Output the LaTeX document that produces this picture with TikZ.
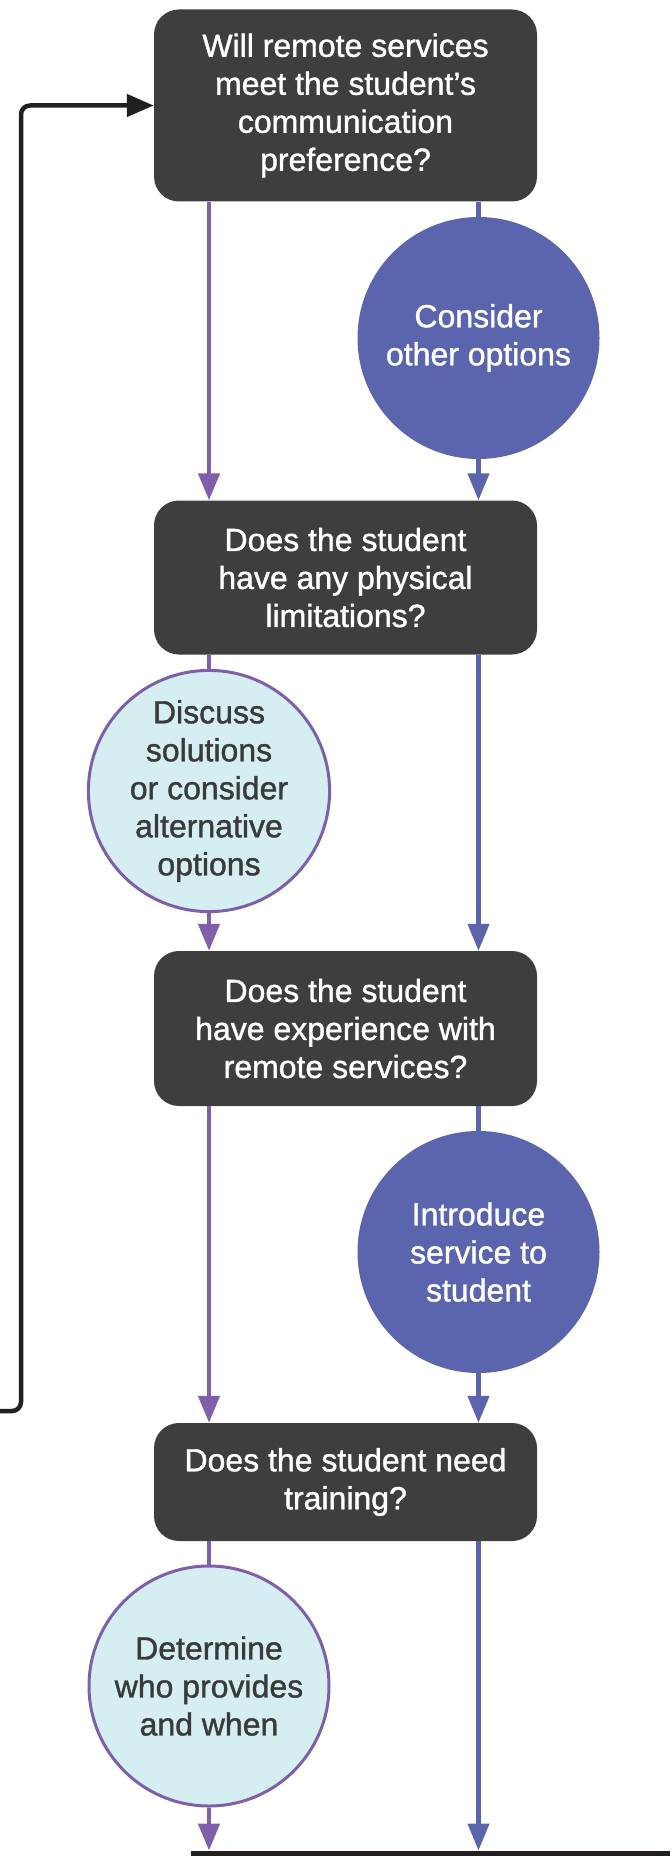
\documentclass[tikz,border=0pt]{standalone}
\usepackage{fontspec}
\setmainfont{Liberation Sans}
\font\qfont="Liberation Sans:embolden=1.2" at 32pt
\newcommand\myqf{\qfont\baselineskip=38pt\relax}
\usetikzlibrary{arrows.meta}
\definecolor{boxgray}{HTML}{3E3E3E}
\definecolor{lpurple}{HTML}{7F5FA9}
\definecolor{lblue}{HTML}{5A65AD}
\definecolor{lcyan}{HTML}{D5EEF2}
\definecolor{dtext}{HTML}{3A3A3A}
\definecolor{loopblack}{HTML}{231F20}
\tikzset{
  qbox/.style={rectangle, rounded corners=25pt, fill=boxgray, text=white,
    minimum width=383pt, inner sep=0pt, align=center, font=\myqf},
  bcirc/.style={circle, fill=lblue, text=white, minimum size=242pt, inner sep=0pt,
    align=center, font=\myqf},
  lcirc/.style={circle, fill=lcyan, draw=lpurple, line width=3pt, text=dtext,
    minimum size=240pt, inner sep=0pt, align=center, font=\myqf},
  pline/.style={draw=lpurple, line width=4.5pt},
  bline/.style={draw=lblue, line width=4.5pt},
  parr/.style={pline, -{Triangle[length=27pt,width=21pt]}},
  barr/.style={bline, -{Triangle[length=27pt,width=21pt]}},
}
\begin{document}
\begin{tikzpicture}[x=1pt,y=-1pt]
\useasboundingbox (0,0) rectangle (670,1859);
% boxes
\node[qbox, minimum height=192pt] (b1) at (345.5,105.5) {Will remote services\\meet the student’s\\communication\\preference?};
\node[qbox, minimum height=154pt] (b2) at (345.5,577.5) {Does the student\\have any physical\\limitations?};
\node[qbox, minimum height=155pt] (b3) at (345.5,1028.5) {Does the student\\have experience with\\remote services?};
\node[qbox, minimum height=118pt] (b4) at (345.5,1482) {Does the student need\\training?};
% circles
\node[bcirc] (c1) at (478.5,338) {Consider\\other options};
\node[lcirc] (d1) at (209,791) {Discuss\\solutions\\or consider\\alternative\\options};
\node[bcirc] (c2) at (478.5,1252) {Introduce\\service to\\student};
\node[lcirc] (d2) at (209,1686) {Determine\\who provides\\and when};
% bottom line
\coordinate (bl) at (191,1853);
\coordinate (br) at (670,1853);
\draw[loopblack, line width=5pt] (bl) -- (br);
% loop
\coordinate (ls) at (0,1411);
\coordinate (lc) at (21,1411);
\draw[loopblack, line width=4.5pt, rounded corners=9pt, -{Triangle[length=27pt,width=22pt]}] (ls) -- (lc) |- (b1.west);
% box1 -> box2
\draw[parr] (b1.south -| d1) -- (b2.north -| d1);
\draw[bline] (b1.south -| c1) -- (c1.north);
\draw[barr] (c1.south) -- (b2.north -| c1);
% box2 -> box3
\draw[pline] (b2.south -| d1) -- (d1.north);
\draw[parr] (d1.south) -- (b3.north -| d1);
\draw[barr] (b2.south -| c1) -- (b3.north -| c1);
% box3 -> box4
\draw[parr] (b3.south -| d1) -- (b4.north -| d1);
\draw[bline] (b3.south -| c2) -- (c2.north);
\draw[barr] (c2.south) -- (b4.north -| c2);
% box4 -> bottom
\draw[pline] (b4.south -| d2) -- (d2.north);
\draw[parr, shorten >=2.5pt] (d2.south) -- (d2.south |- bl);
\draw[barr, shorten >=2.5pt] (b4.south -| c2) -- (bl -| c2);
\end{tikzpicture}
\end{document}
